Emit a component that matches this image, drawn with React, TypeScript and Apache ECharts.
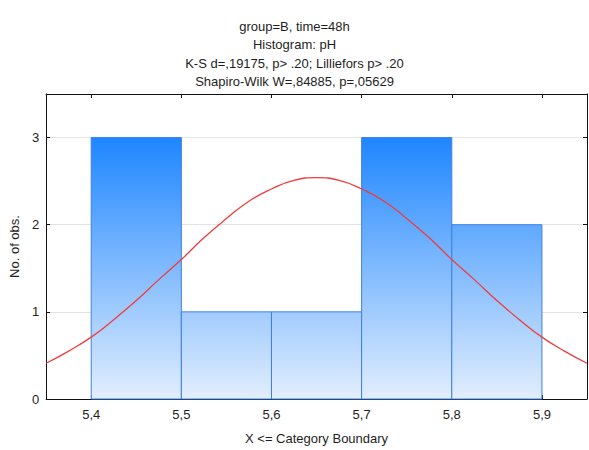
import React, { useEffect, useRef } from "react";
import * as echarts from "echarts";

const titleLines = [
  "group=B, time=48h",
  "Histogram: pH",
  "K-S d=,19175, p> .20; Lilliefors p> .20",
  "Shapiro-Wilk W=,84885, p=,05629",
];
const binStarts = [5.4, 5.5, 5.6, 5.7, 5.8];
const binEnds = [5.5, 5.6, 5.7, 5.8, 5.9];
const counts = [3, 1, 1, 3, 2];
const xTicks = [5.4, 5.5, 5.6, 5.7, 5.8, 5.9];
const yTicks = [0, 1, 2, 3];
const curveX = [
  5.35, 5.375, 5.4, 5.425, 5.45, 5.475, 5.5, 5.525, 5.55, 5.575, 5.6, 5.625, 5.65,
  5.675, 5.7, 5.725, 5.75, 5.775, 5.8, 5.825, 5.85, 5.875, 5.9, 5.925, 5.95,
];
const curveY = [
  0.41, 0.55, 0.71, 0.91, 1.13, 1.37, 1.6, 1.85, 2.07, 2.27, 2.41, 2.51, 2.54,
  2.51, 2.41, 2.27, 2.07, 1.85, 1.6, 1.37, 1.13, 0.91, 0.71, 0.55, 0.41,
];

const FONT = "Liberation Sans, Arial, sans-serif";
const TXT = "#1e1e1e";

export default function App() {
  const ref = useRef<HTMLDivElement>(null);
  useEffect(() => {
    if (!ref.current) return;
    const chart = echarts.init(ref.current, null, { renderer: "svg" });
    const barData = binStarts.map((s, i) => [s, binEnds[i], counts[i]]);
    const fmt = (v: number) => String(Math.round(v * 10) / 10).replace(".", ",");
    const axisLine = { show: true, onZero: false, lineStyle: { color: "#111", width: 1 } };
    chart.setOption({
      animation: false,
      backgroundColor: "#fff",
      textStyle: { fontFamily: FONT },
      title: {
        text: titleLines.join("\n"),
        left: "center",
        top: 12,
        textStyle: { fontSize: 13, fontWeight: "normal", color: TXT, lineHeight: 18.5, fontFamily: FONT },
      },
      grid: { left: 40, right: 2, top: 94, bottom: 48, containLabel: false },
      xAxis: [
        {
          type: "value",
          min: 5.35,
          max: 5.95,
          position: "bottom",
          name: "X <= Category Boundary",
          nameLocation: "middle",
          nameGap: 33,
          nameTextStyle: { fontSize: 13, color: TXT, fontFamily: FONT },
          axisLine,
          axisTick: { show: true, inside: true, length: 4, customValues: xTicks, lineStyle: { color: "#111" } },
          axisLabel: { customValues: xTicks, formatter: fmt, fontSize: 13, color: TXT, margin: 9, fontFamily: FONT },
          splitLine: { show: false },
        },
        {
          type: "value",
          min: 5.35,
          max: 5.95,
          position: "top",
          axisLine,
          axisTick: { show: true, inside: true, length: 4, customValues: xTicks, lineStyle: { color: "#111" } },
          axisLabel: { show: false },
          splitLine: { show: false },
        },
      ],
      yAxis: [
        {
          type: "value",
          min: 0,
          max: 3.5,
          position: "left",
          name: "No. of obs.",
          nameLocation: "middle",
          nameGap: 22,
          nameRotate: 90,
          nameTextStyle: { fontSize: 13, color: TXT, fontFamily: FONT },
          axisLine,
          axisTick: { show: true, inside: true, length: 4, customValues: yTicks, lineStyle: { color: "#111" } },
          axisLabel: { customValues: yTicks, fontSize: 13, color: TXT, margin: 7, fontFamily: FONT },
          splitLine: { show: true, lineStyle: { color: "#e3e3e3", width: 1 } },
        },
        {
          type: "value",
          min: 0,
          max: 3.5,
          position: "right",
          axisLine,
          axisTick: { show: true, inside: true, length: 4, customValues: yTicks, lineStyle: { color: "#111" } },
          axisLabel: { show: false },
          splitLine: { show: false },
        },
      ],
      series: [
        {
          type: "custom",
          xAxisIndex: 0,
          yAxisIndex: 0,
          data: barData,
          z: 2,
          renderItem: (params: any, api: any) => {
            const x0 = api.value(0);
            const x1 = api.value(1);
            const v = api.value(2);
            const pTop = api.coord([x0, v]);
            const pBot = api.coord([x1, 0]);
            const yRef = api.coord([x0, 3])[1];
            return {
              type: "rect",
              shape: { x: pTop[0], y: pTop[1], width: pBot[0] - pTop[0], height: pBot[1] - pTop[1] },
              style: {
                fill: new echarts.graphic.LinearGradient(
                  0,
                  yRef,
                  0,
                  pBot[1],
                  [
                    { offset: 0, color: "#1E86FF" },
                    { offset: 1, color: "#E2EEFD" },
                  ],
                  true
                ),
                stroke: "#3F7FE8",
                lineWidth: 1,
              },
            };
          },
        },
        {
          type: "line",
          xAxisIndex: 0,
          yAxisIndex: 0,
          data: curveX.map((x, i) => [x, curveY[i]]),
          smooth: true,
          symbol: "none",
          z: 3,
          lineStyle: { color: "#F03C3C", width: 1.3 },
        },
      ],
    });
    return () => chart.dispose();
  }, []);
  return <div ref={ref} style={{ position: "fixed", left: 0, top: 0, width: 589, height: 450 }} />;
}
